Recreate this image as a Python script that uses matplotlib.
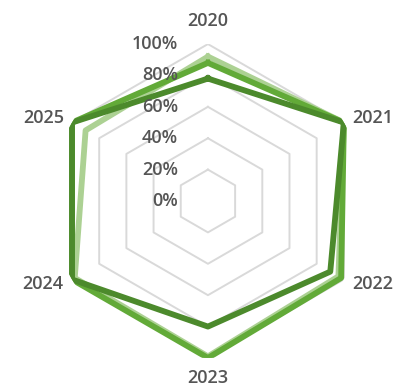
import numpy as np
import matplotlib.pyplot as plt

# Categories (clockwise from the top) and radial ticks
years = ['2020', '2021', '2022', '2023', '2024', '2025']
ticks = [0, 20, 40, 60, 80, 100]

# Series values in percent
light = [92, 100, 96, 99, 98, 90]
bright = [88, 100, 98, 100, 100, 100]
dark = [78, 100, 90, 80, 100, 100]

# Colours
COLOR_LIGHT = '#acd193'
COLOR_BRIGHT = '#62aa38'
COLOR_DARK = '#4c8a2c'
COLOR_GRID = '#d9d9d9'
COLOR_TEXT = '#555555'

plt.rcParams['font.family'] = ['Open Sans', 'DejaVu Sans']


def closed(vals):
    return list(vals) + [vals[0]]


def main():
    fig = plt.figure(figsize=(4.04, 3.86), dpi=100)
    ax = fig.add_axes([0.1262, 0.0725, 0.777, 0.8135], projection='polar')
    ax.set_theta_offset(np.pi / 2)
    ax.set_theta_direction(-1)
    ax.set_ylim(0, 100)
    ax.grid(False)
    ax.spines['polar'].set_visible(False)
    ax.set_xticks([])
    ax.set_yticks([])
    ax.patch.set_alpha(0)

    theta = np.linspace(0, 2 * np.pi, len(years), endpoint=False)
    theta_c = closed(theta)

    # Hexagon grid
    for t in ticks[1:]:
        ax.plot(theta_c, [t] * (len(years) + 1), color=COLOR_GRID, lw=1.4, zorder=1)

    # Series
    ax.plot(theta_c, closed(light), color=COLOR_LIGHT, lw=4.2, zorder=2)
    ax.plot(theta_c, closed(bright), color=COLOR_BRIGHT, lw=4.2, zorder=3)
    ax.plot(theta_c, closed(dark), color=COLOR_DARK, lw=4.2, zorder=4)

    # Radial labels on the left of the top axis
    fs = 13
    for t in ticks:
        ax.annotate(f'{t}%', xy=(0, t), xytext=(-21.6, 0), textcoords='offset points',
                    ha='right', va='center', fontsize=fs, fontweight='semibold',
                    color=COLOR_TEXT, zorder=5)

    # Category labels
    kw = dict(fontsize=fs, fontweight='semibold', color=COLOR_TEXT)
    ax.text(theta[0], 109, years[0], ha='center', va='bottom', **kw)
    ax.text(theta[1], 106, years[1], ha='left', va='center', **kw)
    ax.text(theta[2], 106, years[2], ha='left', va='center', **kw)
    ax.text(theta[3], 107, years[3], ha='center', va='top', **kw)
    ax.text(theta[4], 106, years[4], ha='right', va='center', **kw)
    ax.text(theta[5], 106, years[5], ha='right', va='center', **kw)

    fig.savefig('out.png', dpi=100)


if __name__ == '__main__':
    main()
